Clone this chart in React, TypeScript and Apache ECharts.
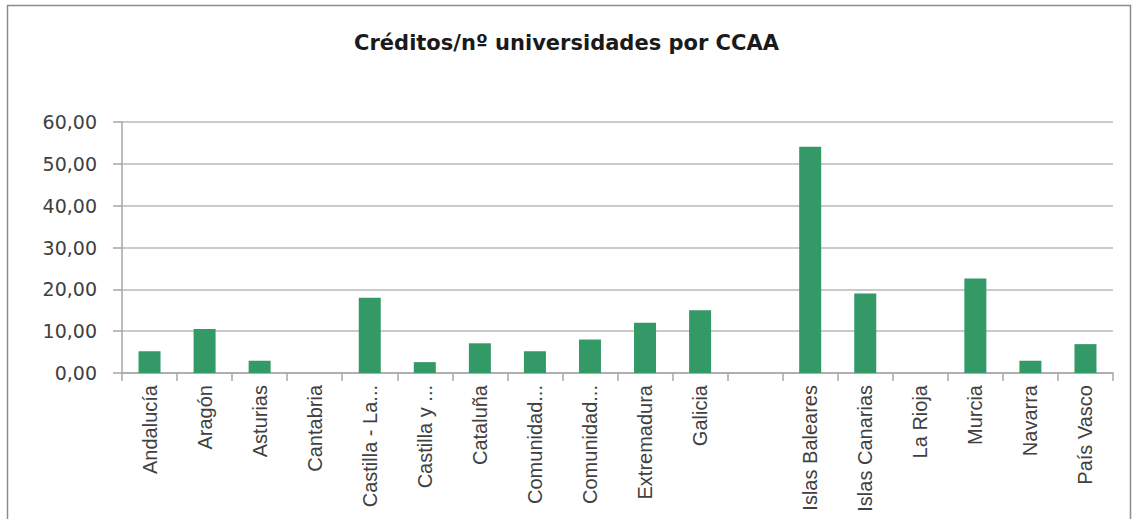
import React, { useEffect, useRef } from "react";
import * as echarts from "echarts";

const titleText = "Créditos/nº universidades por CCAA";

const categories = [
  "Andalucía",
  "Aragón",
  "Asturias",
  "Cantabria",
  "Castilla - La...",
  "Castilla y ...",
  "Cataluña",
  "Comunidad...",
  "Comunidad...",
  "Extremadura",
  "Galicia",
  "",
  "Islas Baleares",
  "Islas Canarias",
  "La Rioja",
  "Murcia",
  "Navarra",
  "País Vasco",
];

const values = [5.2, 10.5, 2.9, 0, 18.0, 2.6, 7.1, 5.2, 8.0, 12.0, 15.0, 0, 54.1, 19.0, 0, 22.6, 2.9, 6.9];

const yMin = 0;
const yMax = 60;
const yInterval = 10;

export default function App() {
  const ref = useRef<HTMLDivElement>(null);

  useEffect(() => {
    if (!ref.current) return;
    const chart = echarts.init(ref.current, undefined, { renderer: "svg" });
    chart.setOption({
      animation: false,
      backgroundColor: "#ffffff",
      title: {
        text: titleText,
        left: "center",
        top: 27,
        textStyle: {
          fontFamily: "DejaVu Sans",
          fontWeight: "bold",
          fontSize: 21,
          color: "#1a1a1a",
        },
      },
      graphic: [
        {
          type: "rect",
          shape: { x: 7.5, y: 5.5, width: 1123, height: 540 },
          style: { fill: "none", stroke: "#8c8c8c", lineWidth: 1.5 },
          silent: true,
        },
      ],
      grid: { left: 122, right: 20, top: 122, bottom: 146, containLabel: false },
      xAxis: {
        type: "category",
        data: categories,
        boundaryGap: true,
        axisLine: { show: true, lineStyle: { color: "#a6a6a6", width: 1.5 } },
        axisTick: { show: true, alignWithLabel: false, length: 8, lineStyle: { color: "#a6a6a6", width: 1.5 } },
        axisLabel: {
          interval: 0,
          rotate: 90,
          margin: 12,
          fontFamily: "Liberation Sans Narrow, Liberation Sans",
          fontSize: 20,
          color: "#404040",
        },
        splitLine: { show: false },
      },
      yAxis: {
        type: "value",
        min: yMin,
        max: yMax,
        interval: yInterval,
        axisLine: { show: true, lineStyle: { color: "#a6a6a6", width: 1.5 } },
        axisTick: { show: true, length: 9, lineStyle: { color: "#a6a6a6", width: 1.5 } },
        axisLabel: {
          margin: 25,
          fontFamily: "DejaVu Sans",
          fontSize: 19,
          color: "#404040",
          formatter: (v: number) => v.toFixed(2).replace(".", ","),
        },
        splitLine: { show: true, lineStyle: { color: "#b8b8b8", width: 1.5 } },
      },
      series: [
        {
          type: "bar",
          data: values,
          barWidth: 22,
          itemStyle: { color: "#339966", borderWidth: 0 },
        },
      ],
    });
    return () => chart.dispose();
  }, []);

  return (
    <div
      ref={ref}
      style={{ position: "fixed", left: 0, top: 0, width: 1133, height: 519 }}
    />
  );
}
